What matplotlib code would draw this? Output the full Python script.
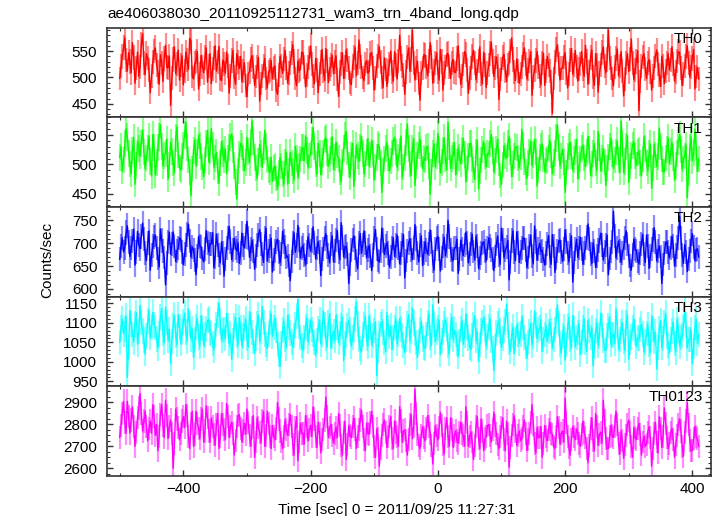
import numpy as np
import matplotlib
matplotlib.use('Agg')
import matplotlib.pyplot as plt
from matplotlib.ticker import MultipleLocator

plt.rcParams['font.family'] = ['Liberation Sans', 'DejaVu Sans']
plt.rcParams['font.size'] = 11

#%% data: WAM light curves (counts/sec), one value every 2 s
t_start = -500
t_step = 2
bin_size = 1.0

th0 = [498, 521, 540, 556, 575, 533, 512, 547, 530, 509, 566, 538, 489, 517, 548, 502, 520, 563, 583, 527, 505, 545, 537, 514,
       471, 503, 529, 550, 556, 524, 510, 487, 543, 528, 492, 536, 561, 519, 518, 541, 447, 499, 534, 558, 507, 526, 552, 495,
       523, 541, 486, 512, 548, 533, 515, 574, 569, 502, 497, 527, 531, 549, 478, 506, 542, 520, 509, 538, 556, 491, 521, 545,
       488, 516, 537, 560, 512, 529, 559, 497, 494, 533, 526, 508, 548, 522, 470, 503, 532, 551, 501, 487, 545, 529, 517, 540,
       492, 513, 528, 485, 463, 507, 510, 534, 541, 519, 485, 502, 519, 538, 455, 489, 503, 521, 536, 498, 480, 511, 514, 532,
       497, 518, 522, 476, 468, 504, 540, 521, 508, 535, 551, 517, 489, 509, 527, 546, 562, 530, 498, 484, 531, 513, 515, 548,
       547, 520, 482, 505, 519, 537, 560, 526, 503, 488, 536, 514, 471, 507, 529, 553, 512, 494, 555, 531, 490, 516, 523, 542,
       507, 529, 541, 496, 464, 511, 525, 547, 498, 519, 552, 533, 517, 490, 486, 521, 538, 557, 503, 527, 571, 540, 519, 500,
       494, 526, 532, 508, 511, 545, 547, 518, 476, 499, 522, 541, 558, 529, 500, 481, 537, 515, 483, 512, 526, 550, 510, 493,
       549, 523, 497, 531, 580, 536, 521, 505, 468, 510, 539, 556, 512, 534, 590, 528, 495, 517, 531, 488, 457, 509, 518, 543,
       542, 520, 503, 531, 566, 539, 489, 512, 528, 547, 511, 495, 553, 530, 476, 508, 520, 544, 545, 519, 498, 527, 534, 510,
       509, 536, 560, 521, 487, 503, 525, 549, 543, 514, 470, 499, 518, 540, 552, 527, 496, 513, 531, 558, 506, 488, 548, 524,
       481, 509, 523, 545, 567, 530, 502, 517, 539, 521, 458, 496, 516, 538, 544, 512, 492, 523, 528, 550, 575, 534, 511, 494,
       535, 513, 489, 507, 520, 544, 556, 526, 497, 515, 531, 549, 466, 501, 514, 532, 549, 520, 503, 486, 527, 546, 485, 512,
       540, 523, 512, 491, 432, 498, 529, 553, 562, 526, 495, 517, 518, 539, 547, 509, 480, 506, 533, 555, 506, 524, 551, 519,
       493, 516, 526, 549, 515, 502, 561, 530, 487, 511, 538, 552, 501, 485, 545, 523, 472, 508, 524, 547, 558, 521, 509, 534,
       590, 537, 517, 498, 484, 519, 536, 554, 503, 522, 549, 512, 465, 497, 528, 545, 511, 535, 573, 528, 496, 514, 530, 551,
       437, 492, 521, 539, 545, 516, 498, 527, 534, 510, 476, 503, 517, 541, 552, 526, 505, 483, 540, 521, 488, 512, 527, 545,
       514, 533, 558, 525, 493, 510, 531, 549, 547, 517, 485, 506, 522, 540, 560, 528, 501, 519, 536, 553, 478, 502, 519, 497]

th1 = [512, 530, 488, 507, 535, 561, 547, 519, 501, 484, 523, 546, 466, 498, 540, 527, 514, 536, 559, 521, 493, 511, 527, 548,
       505, 480, 551, 529, 482, 503, 529, 547, 568, 531, 497, 515, 519, 543, 474, 499, 538, 522, 502, 485, 545, 564, 516, 494,
       490, 513, 532, 550, 571, 528, 508, 487, 446, 492, 524, 541, 497, 520, 550, 533, 513, 496, 479, 507, 536, 558, 504, 523,
       561, 532, 495, 510, 521, 489, 468, 502, 539, 518, 507, 526, 484, 511, 529, 547, 552, 525, 498, 470, 441, 488, 517, 536,
       530, 511, 489, 503, 546, 522, 503, 537, 575, 540, 512, 494, 476, 505, 534, 519, 495, 523, 558, 531, 508, 490, 486, 512,
       471, 494, 497, 476, 458, 485, 512, 497, 483, 466, 503, 521, 466, 488, 520, 502, 489, 473, 531, 510, 478, 497, 509, 528,
       528, 506, 549, 523, 495, 514, 517, 540, 563, 530, 501, 483, 536, 518, 482, 505, 519, 542, 545, 520, 497, 509, 523, 547,
       491, 512, 538, 516, 510, 487, 470, 503, 527, 549, 556, 521, 499, 478, 515, 536, 462, 494, 533, 515, 505, 528, 548, 519,
       484, 501, 520, 544, 497, 516, 541, 519, 473, 495, 512, 534, 530, 502, 452, 488, 509, 527, 537, 511, 488, 506, 519, 540,
       546, 521, 495, 512, 522, 548, 478, 496, 511, 538, 569, 527, 500, 481, 527, 544, 464, 498, 515, 532, 543, 518, 492, 510,
       507, 529, 531, 497, 449, 487, 518, 535, 496, 514, 553, 526, 485, 503, 524, 545, 509, 490, 572, 531, 493, 510, 515, 537,
       482, 504, 528, 512, 501, 523, 544, 517, 470, 492, 513, 535, 536, 509, 491, 474, 520, 541, 458, 489, 507, 525, 539, 514,
       496, 519, 517, 535, 551, 524, 487, 506, 525, 543, 503, 481, 466, 499, 532, 514, 510, 536, 548, 522, 479, 501, 514, 530,
       529, 511, 494, 513, 560, 533, 505, 487, 476, 502, 521, 540, 498, 517, 543, 521, 463, 491, 512, 530, 535, 509, 488, 506,
       508, 527, 541, 516, 484, 503, 519, 545, 567, 528, 497, 514, 526, 504, 452, 486, 513, 530, 538, 515, 490, 508, 521, 543,
       475, 498, 509, 527, 533, 511, 496, 520, 548, 525, 481, 500, 518, 536, 502, 489, 556, 529, 489, 510, 527, 504, 464, 493,
       512, 531, 545, 518, 493, 507, 521, 540, 507, 486, 574, 536, 486, 505, 530, 549, 469, 497, 515, 533, 539, 514, 498, 520,
       523, 502, 480, 509, 547, 527, 502, 489, 518, 535, 459, 493, 534, 516, 496, 513, 562, 530, 509, 487, 487, 511, 526, 545,
       501, 522, 537, 512, 473, 498, 519, 540, 551, 525, 492, 509, 514, 533, 443, 485, 528, 547, 506, 520, 560, 531, 488, 509]

th2 = [665, 694, 712, 681, 690, 723, 738, 702, 671, 689, 705, 731, 652, 680, 726, 697, 688, 715, 744, 709, 679, 662, 700, 727,
       641, 675, 693, 714, 718, 690, 667, 648, 731, 706, 684, 669, 609, 657, 702, 724, 676, 698, 725, 693, 660, 684, 689, 712,
       708, 681, 653, 676, 697, 719, 742, 705, 670, 692, 686, 663, 631, 672, 715, 694, 692, 667, 659, 688, 728, 701, 681, 699,
       699, 723, 647, 670, 720, 696, 675, 657, 703, 679, 628, 665, 689, 711, 737, 704, 664, 685, 711, 690, 683, 701, 656, 678,
       722, 696, 690, 715, 748, 712, 669, 687, 706, 683, 643, 672, 697, 718, 730, 699, 676, 658, 712, 733, 661, 684, 694, 711,
       637, 664, 684, 702, 709, 681, 658, 676, 726, 704, 691, 669, 672, 651, 618, 660, 701, 723, 680, 695, 739, 708, 667, 689,
       695, 674, 652, 680, 714, 697, 683, 706, 736, 701, 666, 689, 704, 681, 629, 665, 688, 710, 721, 692, 674, 657, 698, 716,
       659, 683, 707, 728, 681, 664, 745, 713, 670, 691, 693, 677, 612, 654, 685, 707, 716, 689, 662, 644, 700, 721, 678, 697,
       727, 701, 668, 686, 694, 672, 640, 675, 712, 730, 687, 662, 659, 684, 733, 706, 675, 693, 701, 679, 648, 670, 689, 712,
       671, 695, 718, 690, 655, 678, 696, 719, 624, 662, 683, 701, 709, 686, 664, 690, 741, 710, 678, 659, 697, 716, 651, 679,
       703, 685, 676, 699, 729, 702, 660, 641, 688, 710, 715, 687, 639, 668, 694, 713, 672, 693, 750, 715, 685, 666, 662, 690,
       690, 709, 634, 666, 707, 688, 673, 696, 724, 701, 657, 677, 699, 720, 682, 663, 716, 694, 645, 668, 679, 700, 703, 684,
       661, 689, 712, 693, 686, 667, 640, 671, 698, 716, 675, 654, 733, 707, 668, 685, 691, 706, 620, 659, 706, 727, 680, 662,
       725, 701, 658, 680, 689, 711, 711, 686, 647, 669, 694, 718, 672, 655, 738, 704, 663, 687, 700, 682, 684, 666, 652, 679,
       698, 717, 671, 654, 719, 693, 636, 667, 683, 705, 707, 681, 660, 687, 729, 704, 678, 659, 695, 716, 615, 658, 688, 709,
       669, 690, 713, 688, 654, 678, 690, 713, 742, 709, 676, 656, 701, 683, 647, 672, 685, 706, 722, 697, 663, 681, 697, 718,
       631, 667, 682, 703, 770, 716, 668, 690, 705, 684, 659, 678, 690, 712, 727, 699, 672, 651, 641, 675, 709, 688, 684, 661,
       656, 679, 699, 720, 677, 658, 718, 693, 645, 672, 688, 707, 734, 703, 661, 683, 694, 671, 612, 653, 679, 702, 703, 681,
       668, 690, 715, 694, 650, 675, 692, 712, 759, 711, 674, 656, 697, 680, 638, 666, 683, 705, 721, 692, 662, 685, 688, 670]

th3 = [1050, 1087, 1110, 1072, 1085, 1118, 960, 1039, 1132, 1098, 1070, 1051, 1098, 1126, 1045, 1078, 1145, 1103, 1079, 1056, 1020, 1066, 1104, 1131,
       1062, 1090, 1127, 1095, 1088, 1059, 1035, 1071, 1115, 1137, 1073, 1049, 1140, 1101, 1056, 1083, 995, 1052, 1093, 1119, 1067, 1044, 1121, 1089,
       1048, 1076, 1102, 1125, 1077, 1053, 1136, 1097, 1059, 1084, 1011, 1058, 1090, 1112, 1064, 1040, 1118, 1087, 1041, 1069, 1085, 1106, 1109, 1075,
       1072, 1048, 1030, 1068, 1096, 1121, 1150, 1104, 1055, 1080, 1083, 1060, 1124, 1093, 1047, 1071, 1006, 1054, 1091, 1115, 1068, 1042, 1113, 1086,
       1039, 1066, 1087, 1110, 1060, 1037, 1129, 1095, 1075, 1052, 1022, 1061, 1098, 1120, 1053, 1079, 1142, 1101, 1070, 1045, 1034, 1072, 1101, 1124,
       1066, 1088, 1112, 1080, 1044, 1019, 988, 1046, 1081, 1105, 1058, 1035, 1120, 1089, 1074, 1051, 1037, 1068, 1095, 1117, 1160, 1092, 1063, 1041,
       1028, 1062, 1089, 1113, 1052, 1076, 1107, 1083, 1071, 1049, 1015, 1055, 1084, 1108, 1046, 1070, 1131, 1094, 1060, 1037, 1099, 1123, 1036, 1065,
       1078, 1054, 1119, 1090, 1049, 1073, 1092, 1114, 1003, 1048, 1069, 1093, 1106, 1081, 1040, 1062, 1083, 1109, 1155, 1097, 1057, 1034, 1025, 1070,
       1094, 1117, 1061, 1039, 1117, 1089, 1043, 1067, 1080, 1102, 964, 1030, 1072, 1096, 1103, 1076, 1050, 1027, 1126, 1088, 1065, 1091, 1031, 1063,
       1088, 1110, 1047, 1071, 1111, 1084, 1068, 1043, 1024, 1059, 1097, 1121, 1055, 1078, 1138, 1099, 1073, 1050, 1010, 1052, 1082, 1104, 1059, 1036,
       1035, 1069, 1100, 1124, 1063, 1041, 1146, 1098, 1051, 1076, 1086, 1107, 1019, 1055, 1075, 1097, 1108, 1083, 1042, 1020, 1092, 1116, 1058, 1081,
       1070, 1047, 1013, 1051, 1084, 1106, 1045, 1068, 1123, 1090, 1061, 1038, 1032, 1067, 1096, 1119, 1054, 1078, 1001, 1044, 1079, 1101, 1113, 1085,
       1040, 1064, 1090, 1112, 1056, 1033, 978, 1038, 1074, 1097, 1105, 1079, 1037, 1060, 1081, 1103, 1148, 1094, 1050, 1027, 1067, 1089, 1021, 1057,
       1095, 1070, 1048, 1072, 1116, 1088, 1062, 1039, 1009, 1049, 1077, 1099, 1043, 1066, 1130, 1096, 1059, 1082, 1086, 1108, 1027, 1058, 1070, 1093,
       1052, 1078, 1102, 1080, 1034, 1058, 1083, 1105, 1146, 1097, 1046, 1023, 1068, 1090, 1004, 1045, 1091, 1114, 1057, 1035, 1119, 1085, 1038, 1062,
       1075, 1098, 1018, 1053, 1087, 1110, 1049, 1026, 1106, 1080, 1063, 1087, 990, 1040, 1080, 1102, 1042, 1066, 1125, 1093, 1055, 1030, 1029, 1067,
       1093, 1116, 1044, 1069, 1070, 1047, 1136, 1095, 1031, 1058, 1078, 1101, 1052, 1029, 1099, 1121, 1007, 1049, 1064, 1086, 1110, 1077, 1039, 1061,
       1060, 1083, 1097, 1072, 1025, 1051, 1073, 1096, 1045, 1024, 1118, 1085, 1053, 1076, 982, 1036, 1084, 1106, 1036, 1060, 1101, 1124, 1066, 1043,
       1022, 1058, 1079, 1102, 1048, 1025, 1108, 1081, 1040, 1063, 1067, 1089, 1131, 1094, 1035, 1057, 1058, 1082, 995, 1039, 1088, 1110, 1047, 1070]

th0123 = [2740, 2795, 2850, 2905, 2810, 2760, 2905, 2835, 2760, 2820, 2880, 2790, 2700, 2765, 2830, 2875, 2940, 2850, 2770, 2815, 2860, 2790, 2725, 2780,
          2815, 2760, 2890, 2835, 2750, 2800, 2680, 2745, 2845, 2890, 2795, 2740, 2910, 2840, 2735, 2790, 2820, 2760, 2600, 2715, 2870, 2825, 2785, 2730,
          2760, 2815, 2835, 2785, 2890, 2840, 2745, 2690, 2805, 2860, 2700, 2755, 2860, 2805, 2780, 2735, 2825, 2870, 2720, 2770, 2885, 2830, 2770, 2720,
          2830, 2790, 2755, 2705, 2800, 2850, 2690, 2745, 2850, 2800, 2775, 2730, 2895, 2835, 2740, 2790, 2810, 2760, 2660, 2725, 2790, 2840, 2845, 2780,
          2720, 2770, 2805, 2755, 2870, 2810, 2750, 2700, 2785, 2840, 2650, 2720, 2830, 2785, 2765, 2715, 2815, 2860, 2700, 2750, 2860, 2805, 2745, 2690,
          2795, 2745, 2730, 2780, 2900, 2825, 2770, 2720, 2690, 2745, 2820, 2775, 2750, 2800, 2845, 2790, 2710, 2660, 2785, 2835, 2635, 2720, 2805, 2760,
          2760, 2710, 2840, 2790, 2725, 2775, 2795, 2745, 2880, 2825, 2745, 2695, 2810, 2760, 2670, 2730, 2775, 2820, 2925, 2835, 2740, 2785, 2800, 2750,
          2715, 2760, 2785, 2740, 2850, 2795, 2705, 2660, 2765, 2815, 2640, 2710, 2795, 2750, 2740, 2790, 2830, 2775, 2690, 2745, 2775, 2820, 2865, 2790,
          2730, 2680, 2805, 2760, 2755, 2810, 2860, 2790, 2700, 2650, 2780, 2735, 2610, 2690, 2750, 2800, 2820, 2765, 2695, 2745, 2790, 2835, 2735, 2690,
          2815, 2765, 2745, 2700, 2880, 2815, 2720, 2770, 2775, 2725, 2660, 2730, 2800, 2845, 2735, 2790, 2960, 2850, 2755, 2705, 2690, 2750, 2790, 2740,
          2725, 2780, 2840, 2790, 2760, 2705, 2620, 2715, 2795, 2750, 2730, 2785, 2855, 2795, 2710, 2665, 2780, 2830, 2745, 2700, 2830, 2775, 2695, 2750,
          2770, 2725, 2715, 2765, 2810, 2760, 2750, 2700, 2880, 2810, 2700, 2745, 2765, 2720, 2640, 2705, 2790, 2835, 2735, 2690, 2825, 2770, 2680, 2735,
          2745, 2795, 2800, 2750, 2720, 2775, 2855, 2795, 2760, 2710, 2690, 2745, 2785, 2830, 2730, 2680, 2815, 2760, 2605, 2695, 2750, 2800, 2840, 2770,
          2705, 2750, 2770, 2725, 2735, 2790, 2820, 2760, 2680, 2730, 2760, 2810, 2890, 2800, 2715, 2670, 2785, 2740, 2740, 2790, 2650, 2715, 2795, 2745,
          2725, 2775, 2810, 2760, 2755, 2700, 2690, 2745, 2835, 2785, 2710, 2760, 2770, 2720, 2920, 2810, 2745, 2695, 2660, 2730, 2790, 2745, 2730, 2780,
          2760, 2715, 2700, 2755, 2815, 2765, 2740, 2690, 2625, 2705, 2780, 2830, 2725, 2680, 2850, 2790, 2705, 2755, 2765, 2715, 2910, 2815, 2735, 2690,
          2690, 2745, 2795, 2750, 2740, 2790, 2860, 2800, 2715, 2665, 2770, 2725, 2645, 2710, 2750, 2800, 2820, 2765, 2700, 2650, 2785, 2740, 2730, 2780,
          2805, 2755, 2660, 2720, 2745, 2700, 2710, 2765, 2790, 2740, 2610, 2690, 2760, 2810, 2720, 2670, 2835, 2780, 2695, 2745, 2875, 2805, 2740, 2690,
          2715, 2765, 2780, 2730, 2650, 2710, 2750, 2800, 2825, 2770, 2700, 2655, 2765, 2815, 2900, 2800, 2725, 2680, 2680, 2735, 2790, 2745, 2735, 2700]

bands = ['TH0', 'TH1', 'TH2', 'TH3', 'TH0123']
rates = [th0, th1, th2, th3, th0123]
colors = ['#ff0000', '#00ff00', '#0000ff', '#00ffff', '#ff00ff']
ylims = [(424, 594), (427, 580), (583, 779), (937, 1167), (2565, 2973)]
ymajor = [50, 50, 50, 50, 100]
yminor = [10, 10, 10, 10, 25]

title = 'ae406038030_20110925112731_wam3_trn_4band_long.qdp'
xlabel = 'Time [sec] 0 = 2011/09/25 11:27:31'
ylabel = 'Counts/sec'

#%% figure
dpi = 100
fig, axs = plt.subplots(5, 1, sharex=True, figsize=(7.18, 5.16), dpi=dpi)
fig.subplots_adjust(left=0.149, right=0.990, top=0.946, bottom=0.0775, hspace=0)

for ax, name, r, c, yl, ma, mi in zip(axs, bands, rates, colors, ylims, ymajor, yminor):
    r = np.array(r, dtype=float)
    t = t_start + t_step * np.arange(len(r))
    err = np.sqrt(r * bin_size) / bin_size
    # error bars in a lighter shade, rate line on top
    ax.vlines(t, r - err, r + err, color=c, alpha=0.45, lw=1.6)
    ax.plot(t, r, color=c, lw=1.0)
    ax.set_ylim(yl)
    ax.set_xlim(-520, 429)
    ax.yaxis.set_major_locator(MultipleLocator(ma))
    ax.yaxis.set_minor_locator(MultipleLocator(mi))
    ax.xaxis.set_major_locator(MultipleLocator(200))
    ax.xaxis.set_minor_locator(MultipleLocator(100))
    ax.tick_params(which='both', direction='in', top=True, right=True, colors='#333333',
                   labelcolor='black', labelsize=11)
    ax.tick_params(which='major', length=4.5, width=1.0, pad=7)
    ax.tick_params(which='minor', length=2.2, width=0.8)
    ax.tick_params(axis='x', which='major', pad=4)
    for s in ax.spines.values():
        s.set_color('#333333')
        s.set_linewidth(1.2)
    ax.text(0.987, 0.955, name, transform=ax.transAxes, ha='right', va='top', fontsize=11)

axs[-1].set_xlabel(xlabel)
axs[-1].xaxis.set_label_coords((397 - 107) / 604, -0.3)
fig.text(0.066, 0.496, ylabel, rotation=90, ha='center', va='center', fontsize=11)
fig.text(0.150, 0.972, title, ha='left', va='center', fontsize=11)

plt.savefig('out.png', dpi=dpi)
